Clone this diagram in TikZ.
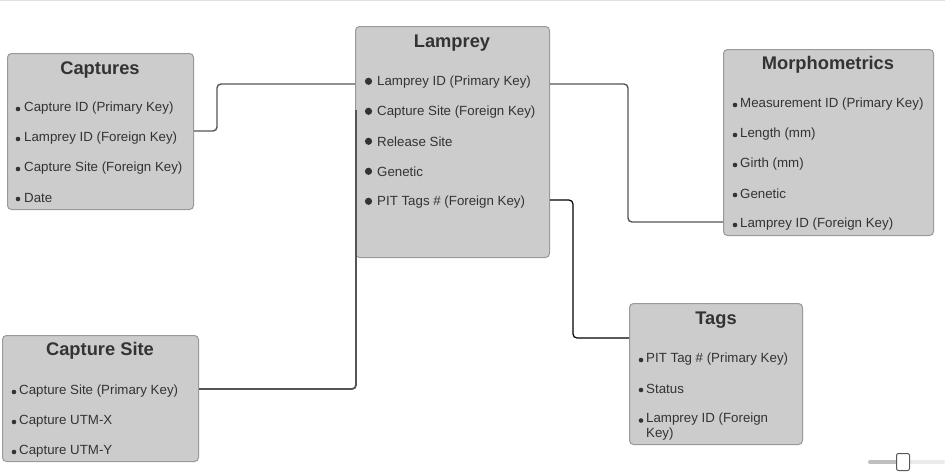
\documentclass[tikz,border=0pt]{standalone}
\usepackage{fontspec}
\setmainfont{Liberation Sans}
\begin{document}
\begin{tikzpicture}[x=1pt,y=-1pt,
  tbl/.style={draw=boxborder,fill=boxfill,rounded corners=4pt,line width=1pt,anchor=north west,inner sep=0pt},
  ttl/.style={font=\fontsize{18.3}{20}\selectfont\bfseries,text=txt,inner sep=0pt,yshift=-2pt},
  itm/.style={font=\fontsize{13.3}{15}\selectfont,text=txt,anchor=west,inner sep=0pt,yshift=-1.8pt},
  bul/.style={fill=txt},
  conn/.style={draw=linegray,line width=1.4pt,rounded corners=4pt},
  connb/.style={draw=black,line width=1.2pt,rounded corners=4pt}]
\definecolor{boxfill}{HTML}{CCCCCC}
\definecolor{boxborder}{HTML}{999999}
\definecolor{txt}{HTML}{333333}
\definecolor{linegray}{HTML}{555555}
\useasboundingbox (0,0) rectangle (945,475);
\fill[white] (0,0) rectangle (945,475);
\draw[black!12,line width=1pt] (0,0.5) -- (945,0.5);

% Captures
\node[tbl,minimum width=186pt,minimum height=156pt] (captures) at (7,53) {};
\node[ttl] (capT) at (100,68) {Captures};
\node[itm] (c1) at (24,106) {Capture ID (Primary Key)};
\node[itm] (c2) at (24,136) {Lamprey ID (Foreign Key)};
\node[itm] (c3) at (24,166) {Capture Site (Foreign Key)};
\node[itm] (c4) at (24,196) {Date};
\foreach \n in {c1,c2,c3,c4} \fill[bul] ([xshift=-6pt,yshift=-1.2pt]\n.west) circle (2.3pt);

% Lamprey
\node[tbl,minimum width=194pt,minimum height=231pt] (lamprey) at (355,26) {};
\node[ttl] (lamT) at (452,41) {Lamprey};
\node[itm] (l1) at (377,80) {Lamprey ID (Primary Key)};
\node[itm] (l2) at (377,110) {Capture Site (Foreign Key)};
\node[itm] (l3) at (377,140) {Release Site};
\node[itm] (l4) at (377,170) {Genetic};
\node[itm] (l5) at (377,200) {PIT Tags \# (Foreign Key)};
\foreach \n in {l1,l2,l3,l4,l5} \fill[bul] ([xshift=-8.5pt,yshift=0.5pt]\n.west) circle (3.6pt);

% Morphometrics
\node[tbl,minimum width=210pt,minimum height=186pt] (morph) at (723,49) {};
\node[ttl] (morT) at (828,63) {Morphometrics};
\node[itm] (m1) at (740,102) {Measurement ID (Primary Key)};
\node[itm] (m2) at (740,132) {Length (mm)};
\node[itm] (m3) at (740,162) {Girth (mm)};
\node[itm] (m4) at (740,192) {Genetic};
\node[itm] (m5) at (740,222) {Lamprey ID (Foreign Key)};
\foreach \n in {m1,m2,m3,m4,m5} \fill[bul] ([xshift=-5pt,yshift=-1.2pt]\n.west) circle (2.3pt);

% Capture Site
\node[tbl,minimum width=196pt,minimum height=126pt] (capsite) at (2,335) {};
\node[ttl] (csT) at (100,349) {Capture Site};
\node[itm] (s1) at (19,389) {Capture Site (Primary Key)};
\node[itm] (s2) at (19,419) {Capture UTM-X};
\node[itm] (s3) at (19,449) {Capture UTM-Y};
\foreach \n in {s1,s2,s3} \fill[bul] ([xshift=-5pt,yshift=-1.2pt]\n.west) circle (2.3pt);

% Tags
\node[tbl,minimum width=173pt,minimum height=141pt] (tags) at (629,303) {};
\node[ttl] (tgT) at (716,318) {Tags};
\node[itm] (t1) at (646,357) {PIT Tag \# (Primary Key)};
\node[itm] (t2) at (646,387) {Status};
\node[itm,anchor=north west,align=left,yshift=-1pt] (t3) at (646,410) {Lamprey ID (Foreign\\Key)};
\foreach \n in {t1,t2} \fill[bul] ([xshift=-5pt,yshift=-1.2pt]\n.west) circle (2.3pt);
\fill[bul] (641,420.5) circle (2.3pt);

% connectors
\draw[conn] (captures.east |- 0,131) -- (217,131) -- (217,84) -- (lamprey.west |- 0,84);
\draw[conn] (lamprey.east |- 0,84) -- (628,84) -- (628,222) -- (morph.west |- 0,222);
\draw[connb] (lamprey.east |- 0,200) -- (573,200) -- (573,338) -- (tags.west |- 0,338);
\draw[conn,line width=1.8pt] (capsite.east |- 0,389) -- (356,389) -- ([xshift=1pt]lamprey.west |- 0,110);

% slider
\draw[line width=4pt,black!25,line cap=round] (870,462) -- (902,462);
\draw[line width=4pt,black!8,line cap=round] (902,462) -- (943,462);
\node[draw=black!65,fill=white,rounded corners=2pt,minimum width=13pt,minimum height=17pt,inner sep=0pt,line width=1pt] (thumb) at (903,462) {};
\end{tikzpicture}
\end{document}
